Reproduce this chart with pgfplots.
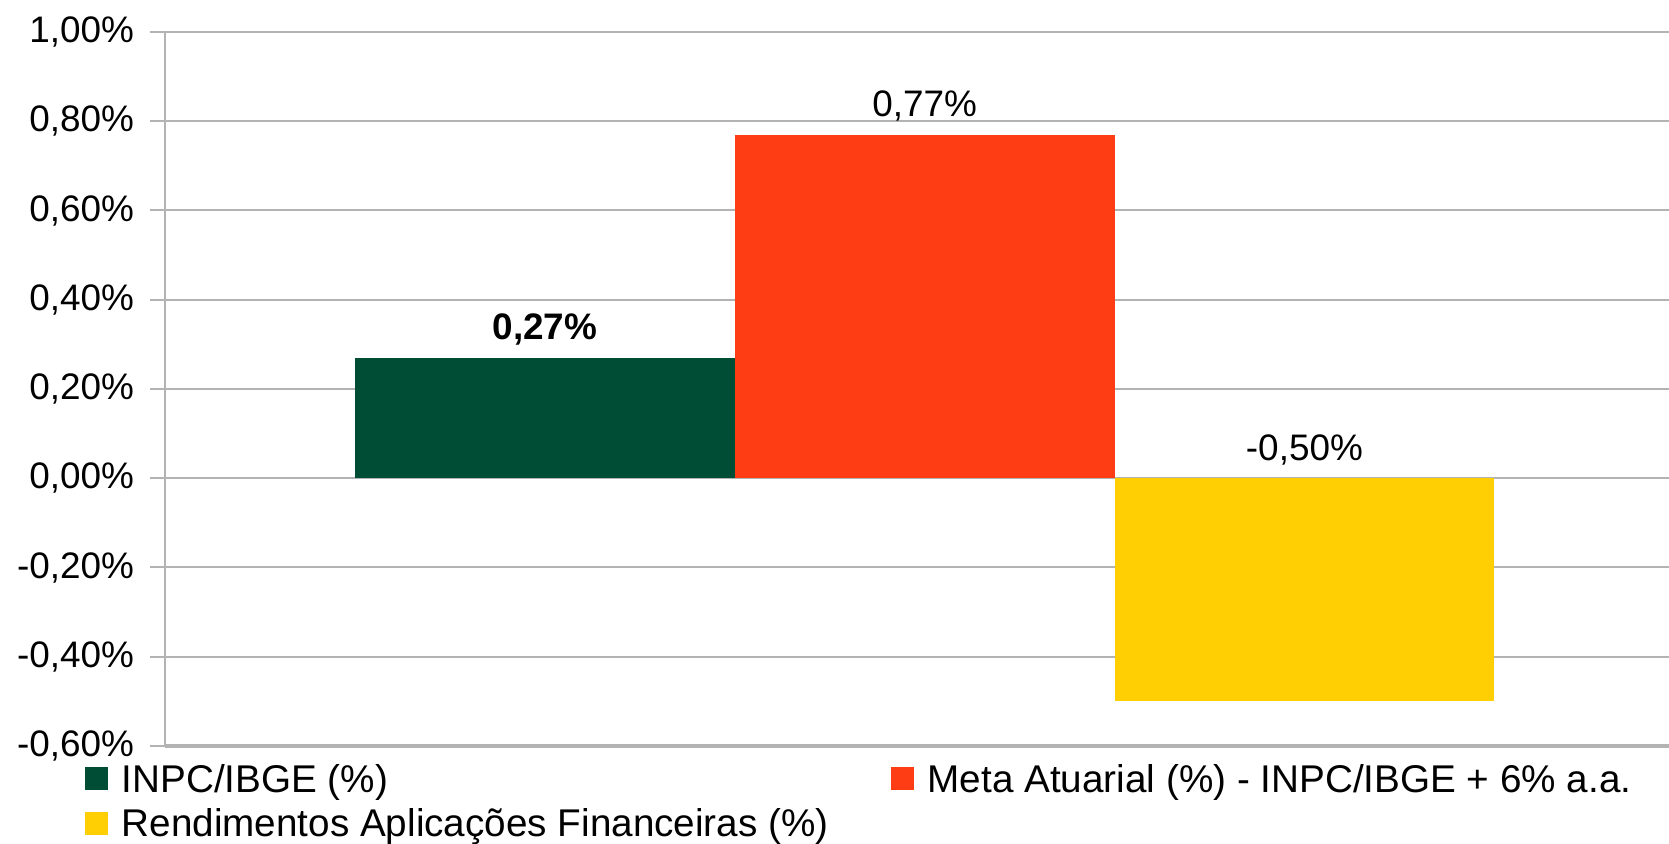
\documentclass[border=0pt]{standalone}
\usepackage{pgfplots}
\pgfplotsset{compat=1.18}
\usepackage{fontspec}
\setmainfont{Liberation Sans}
\definecolor{cgreen}{RGB}{0,77,53}
\definecolor{corange}{RGB}{255,61,20}
\definecolor{cyellow}{RGB}{255,207,3}
\definecolor{cgrid}{RGB}{179,179,179}
\begin{document}
\fontsize{10.5}{12.6}\selectfont
\begin{tikzpicture}
\useasboundingbox (-16.5mm,-9.8mm) rectangle (150.4mm,74.6mm);
\begin{axis}[
  scale only axis,
  width=150.4mm, height=71.4mm,
  xmin=0, xmax=3.96,
  ymin=-0.6, ymax=1.0,
  ybar, bar width=1,
  clip=false,
  xtick=\empty,
  ytick={-0.6,-0.4,-0.2,0,0.2,0.4,0.6,0.8,1.0},
  /pgf/number format/assume math mode=true,
  yticklabel={\pgfmathprintnumber[fixed,fixed zerofill,precision=2,use comma]{\tick}\%},
  yticklabel style={font=\fontsize{10.5}{12.6}\selectfont, text=black, xshift=-0.3mm},
  axis x line=bottom, axis y line=left,
  axis line style={draw=cgrid, -},
  x axis line style={line width=0.45mm},
  y axis line style={line width=0.25mm},
  ymajorgrids, grid style={draw=cgrid, line width=0.2mm},
  major tick length=1.5mm, tick align=outside,
  ytick style={draw=cgrid, line width=0.2mm},
  point meta=y,
  nodes near coords={\pgfmathprintnumber[fixed,fixed zerofill,precision=2,use comma]{\pgfplotspointmeta}\%},
  legend columns=2,
  legend cell align=left,
  legend style={draw=none, fill=none, at={(0,0)}, anchor=north west, xshift=-8.1mm, yshift=-1.1mm,
    inner sep=0pt, row sep=-0.35mm, font=\fontsize{11}{13.2}\selectfont,
    /tikz/every even column/.append style={column sep=5.5mm}},
]
\addplot[fill=cgreen, draw=none, bar shift=0pt,
  every node near coord/.append style={anchor=base, yshift=1.8mm, font=\fontsize{10.5}{12.6}\selectfont\bfseries, text=black},
  legend image code/.code={\fill[cgreen] (0,-0.9mm) rectangle (2.3mm,1.4mm); \path (3.0mm,0);}]
  coordinates {(1,0.27)};
\addlegendentry{INPC/IBGE (\%)}
\addplot[fill=corange, draw=none, bar shift=0pt,
  every node near coord/.append style={anchor=base, yshift=1.8mm, font=\fontsize{10.5}{12.6}\selectfont, text=black},
  legend image code/.code={\fill[corange] (0,-0.9mm) rectangle (2.3mm,1.4mm); \path (3.0mm,0);}]
  coordinates {(2,0.77)};
\addlegendentry{Meta Atuarial (\%) - INPC/IBGE + 6\% a.a.}
\addplot[fill=cyellow, draw=none, bar shift=0pt,
  every node near coord/.append style={anchor=base, yshift=24.1mm, font=\fontsize{10.5}{12.6}\selectfont, text=black},
  legend image code/.code={\fill[cyellow] (0,-0.9mm) rectangle (2.3mm,1.4mm); \path (3.0mm,0);}]
  coordinates {(3,-0.50)};
\addlegendentry{Rendimentos Aplicações Financeiras (\%)}
\end{axis}
\end{tikzpicture}
\end{document}
